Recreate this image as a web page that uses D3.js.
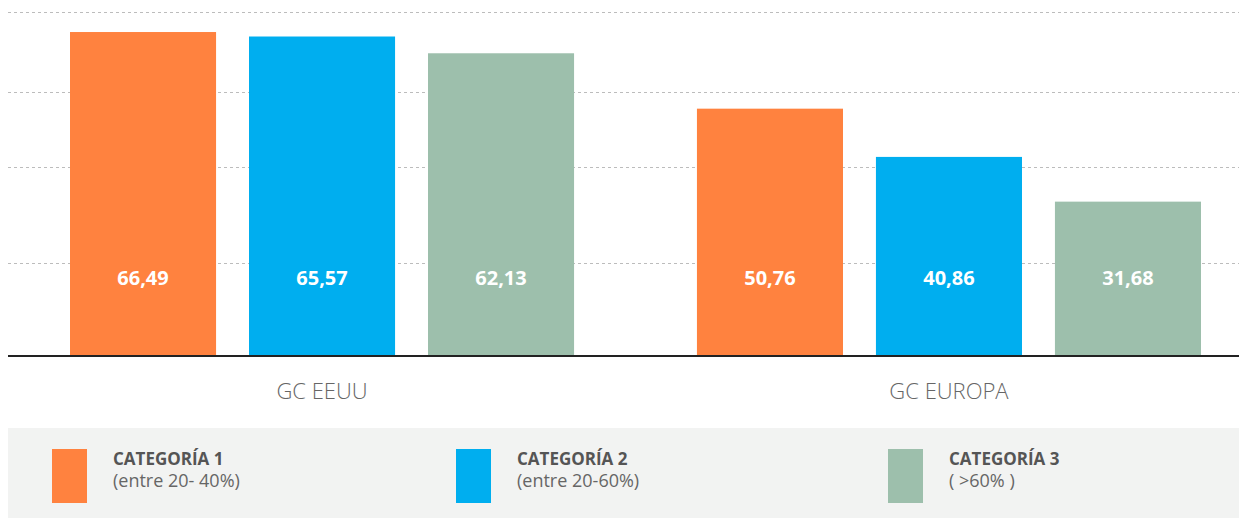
<!DOCTYPE html>
<html>
<head>
<meta charset="utf-8">
<script src="https://cdn.jsdelivr.net/npm/d3@7"></script>
<style>
  html, body { margin: 0; padding: 0; background: #fff; }
  svg { display: block; }
</style>
</head>
<body>
<script>
// ---- data ----
const groups = ["GC EEUU", "GC EUROPA"];
const seriesKeys = ["cat1", "cat2", "cat3"];
const cat1Values = [66.49, 50.76];
const cat2Values = [65.57, 40.86];
const cat3Values = [62.13, 31.68];
const legendTitles = ["CATEGORÍA 1", "CATEGORÍA 2", "CATEGORÍA 3"];
const legendSubs = ["(entre 20- 40%)", "(entre 20-60%)", "( >60% )"];
const gridValues = [19.1, 38.8, 54.2, 70.6];
const colors = ["#FF823F", "#00AEEF", "#9DBFAC"];

const seriesValues = [cat1Values, cat2Values, cat3Values];
const fmt = v => d3.format(".2f")(v).replace(".", ",");

const W = 1239, H = 518;
const svg = d3.select("body").append("svg").attr("width", W).attr("height", H);

const y = d3.scaleLinear().domain([0, 70.6]).range([356, 12]);
const x0 = d3.scaleBand().domain(groups).range([70, 1201]).paddingInner(0.196).paddingOuter(0);
const x1 = d3.scaleBand().domain(seriesKeys).range([0, x0.bandwidth()]).paddingInner(0.184).paddingOuter(0);

// gridlines
svg.append("g").selectAll("line").data(gridValues).join("line")
  .attr("x1", 8).attr("x2", W)
  .attr("y1", d => Math.round(y(d)) + 0.5).attr("y2", d => Math.round(y(d)) + 0.5)
  .attr("stroke", "#bcbcbc").attr("stroke-width", 1).attr("stroke-dasharray", "3,3");

// bars
const gG = svg.append("g").selectAll("g").data(groups).join("g")
  .attr("transform", d => `translate(${x0(d)},0)`);

gG.selectAll("rect").data((g, gi) => seriesKeys.map((k, si) => ({k, si, v: seriesValues[si][gi]})))
  .join("rect")
  .attr("x", d => x1(d.k)).attr("width", x1.bandwidth())
  .attr("y", d => y(d.v)).attr("height", d => y(0) - y(d.v))
  .attr("fill", d => colors[d.si]);

gG.selectAll("text.val").data((g, gi) => seriesKeys.map((k, si) => ({k, si, v: seriesValues[si][gi]})))
  .join("text").attr("class", "val")
  .attr("x", d => x1(d.k) + x1.bandwidth() / 2).attr("y", 285)
  .attr("text-anchor", "middle")
  .attr("font-family", "'Open Sans', sans-serif").attr("font-weight", 700).attr("font-size", 20)
  .attr("fill", "#fff")
  .text(d => fmt(d.v));

// baseline
svg.append("line").attr("x1", 8).attr("x2", W).attr("y1", 356).attr("y2", 356)
  .attr("stroke", "#222").attr("stroke-width", 2);

// category axis labels
svg.append("g").selectAll("text").data(groups).join("text")
  .attr("x", d => x0(d) + x0.bandwidth() / 2).attr("y", 399)
  .attr("text-anchor", "middle")
  .attr("font-family", "'Open Sans', sans-serif").attr("font-weight", 300).attr("font-size", 22)
  .attr("fill", "#666")
  .text(d => d);

// legend
svg.append("rect").attr("x", 8).attr("y", 428).attr("width", W - 8).attr("height", H - 428).attr("fill", "#f2f3f2");
const legX = [52, 456, 888];
const lg = svg.append("g").selectAll("g").data(legendTitles).join("g")
  .attr("transform", (d, i) => `translate(${legX[i]},0)`);
lg.append("rect").attr("x", 0).attr("y", 449).attr("width", 35).attr("height", 54)
  .attr("fill", (d, i) => colors[i]);
lg.append("text").attr("x", 61).attr("y", 465)
  .attr("font-family", "'Open Sans', sans-serif").attr("font-weight", 700).attr("font-size", 17)
  .attr("fill", "#555").text(d => d);
lg.append("text").attr("x", 61).attr("y", 487)
  .attr("font-family", "'Open Sans', sans-serif").attr("font-weight", 400).attr("font-size", 18)
  .attr("fill", "#666").text((d, i) => legendSubs[i]);
</script>
</body>
</html>
